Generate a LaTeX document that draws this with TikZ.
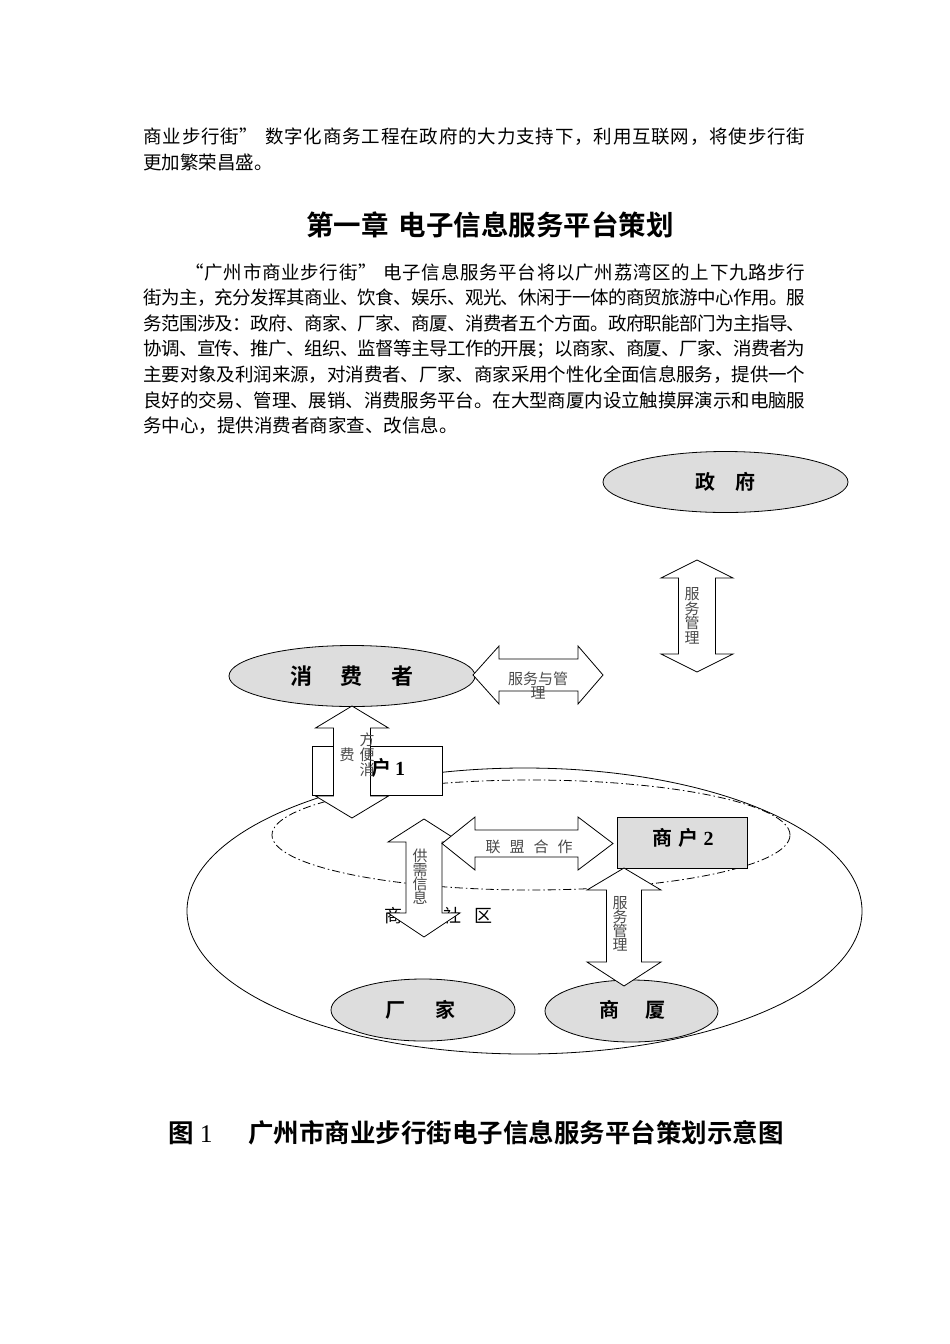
\documentclass[tikz,border=0pt]{standalone}
\usepackage{fontspec}
\usetikzlibrary{shapes.geometric}
\newfontfamily\cjk{Noto Sans CJK SC}
\IfFontExistsTF{Noto Sans CJK SC Bold}{\newfontfamily\cjkb{Noto Sans CJK SC Bold}}{\newfontfamily\cjkb[FakeBold=2]{Noto Sans CJK SC}}
\newfontfamily\tnr{Liberation Serif}
\newcommand\fs[1]{\fontsize{#1}{#1}\selectfont}
\makeatletter
\def\spreadline#1{\spr@a#1\relax}
\def\spr@a#1{#1\spr@b}
\def\spr@b#1{\ifx\relax#1\else\hspace{0pt plus 1fil minus 1pt}#1\expandafter\spr@b\fi}
\makeatother
\newcommand\jline[2]{\makebox[#1][s]{\spreadline{#2}}}
\newcommand\vdarr[7]{%
 \draw[blockarrow] (#1,#2) -- (#1+#4,#2+#6) -- (#1+#5,#2+#6) -- (#1+#5,#3-#7) -- (#1+#4,#3-#7) -- (#1,#3) -- (#1-#4,#3-#7) -- (#1-#5,#3-#7) -- (#1-#5,#2+#6) -- (#1-#4,#2+#6) -- cycle;}
\newcommand\hdarr[7]{%
 \draw[blockarrow] (#2,#1) -- (#2+#6,#1-#4) -- (#2+#6,#1-#5) -- (#3-#7,#1-#5) -- (#3-#7,#1-#4) -- (#3,#1) -- (#3-#7,#1+#4) -- (#3-#7,#1+#5) -- (#2+#6,#1+#5) -- (#2+#6,#1+#4) -- cycle;}
\definecolor{fillgray}{HTML}{DDDDDD}
\definecolor{labelgray}{HTML}{4A4A4A}
\begin{document}
\begin{tikzpicture}[x=1pt,y=-1pt,line width=0.8pt,
  body/.style={anchor=west,inner sep=0pt,font=\cjk\fs{18.5}},
  oval/.style={ellipse,draw,fill=fillgray,inner sep=0pt},
  box/.style={rectangle,draw,inner sep=0pt},
  blockarrow/.style={draw,fill=white,line join=miter},
  lbl/.style={text=labelgray,font=\cjk\fs{15},align=center,inner sep=0pt},
  bigtxt/.style={font=\cjkb\fs{20},inner sep=0pt},
  dashdot/.style={dash pattern=on 8pt off 3pt on 1.5pt off 3pt}]
\fill[white] (0,0) rectangle (950,1344);
\useasboundingbox (0,0) rectangle (950,1344);
% ---------- text ----------
\node[body] (p1a) at (143,137) {\jline{662pt}{商业步行街{”\hspace{6pt}}数字化商务工程在政府的大力支持下，利用互联网，将使步行街}};
\node[body] (p1b) at (143,162) {更加繁荣昌盛。};
\node[font=\cjkb\fs{27.5},inner sep=0pt] (title) at (490,225) {第一章\hspace{10pt}电子信息服务平台策划};
\node[body] (p2a) at (185,272) {\jline{620pt}{“广州市商业步行街{”\hspace{6pt}}电子信息服务平台将以广州荔湾区的上下九路步行}};
\node[body] (p2b) at (143,298) {\jline{662pt}{街为主，充分发挥其商业、饮食、娱乐、观光、休闲于一体的商贸旅游中心作用。服}};
\node[body] (p2c) at (143,323) {\jline{662pt}{务范围涉及：政府、商家、厂家、商厦、消费者五个方面。政府职能部门为主指导、}};
\node[body] (p2d) at (143,349) {\jline{662pt}{协调、宣传、推广、组织、监督等主导工作的开展；以商家、商厦、厂家、消费者为}};
\node[body] (p2e) at (143,375) {\jline{662pt}{主要对象及利润来源，对消费者、厂家、商家采用个性化全面信息服务，提供一个}};
\node[body] (p2f) at (143,400) {\jline{662pt}{良好的交易、管理、展销、消费服务平台。在大型商厦内设立触摸屏演示和电脑服}};
\node[body] (p2g) at (143,426) {务中心，提供消费者商家查、改信息。};
% ---------- diagram ----------
\node[ellipse,draw,inner sep=0pt,minimum width=675pt,minimum height=286pt] (area) at (524.5,911) {};
\node[ellipse,draw,dashdot,inner sep=0pt,minimum width=518pt,minimum height=110pt] (core) at (531,835) {};
\node[font=\cjk\fs{18},inner sep=0pt] (sq) at (438,916) {商\hspace{12pt}业\hspace{12pt}社\hspace{12pt}区};
\node[oval,minimum width=245pt,minimum height=61pt] (gov) at (725.5,482) {};
\node[bigtxt] at (gov) {政\hspace{20pt}府};
\node[oval,minimum width=246pt,minimum height=61pt] (cons) at (352,676) {};
\node[font=\cjkb\fs{22},inner sep=0pt] at (352,676) {消\hspace{29pt}费\hspace{29pt}者};
\node[oval,minimum width=184pt,minimum height=62pt] (fac) at (423,1010) {};
\node[bigtxt] at (420,1010) {厂\hspace{30pt}家};
\node[oval,minimum width=173pt,minimum height=62pt] (mall) at (631.5,1011) {};
\node[bigtxt] at (632,1010) {商\hspace{26pt}厦};
\node[box,fill=white,minimum width=130pt,minimum height=49pt] (m1) at (377,770.5) {};
\node[bigtxt] at (378,768) {商户\hspace{4pt}{\tnr\bfseries 1}};
\node[box,fill=fillgray,minimum width=130pt,minimum height=51pt] (m2) at (682,842.5) {};
\node[bigtxt] at (683,838) {商\hspace{6pt}户\hspace{5pt}{\tnr\bfseries 2}};
% block arrows
\vdarr{697}{560}{672}{36}{18.5}{18}{18}
\vdarr{352}{706}{818}{36.5}{18.5}{22}{22}
\vdarr{424}{819}{937}{36}{18}{23}{24}
\vdarr{624}{868}{986}{37}{17.5}{22}{24}
\hdarr{675}{473}{603}{29}{16}{26}{25}
\hdarr{843.5}{442}{613}{26.5}{13.5}{33}{35}
% arrow labels
\node[lbl] (l1) at (692,616) {服\\[-0.5pt]务\\[-0.5pt]管\\[-0.5pt]理};
\node[lbl] (l2) at (538,686) {服务与管\\[-1pt]理};
\node[lbl] (l3a) at (367,755) {方\\[0pt]便\\[0pt]消};
\node[lbl] (l3b) at (347,755) {费};
\node[lbl] (l4) at (420,877) {供\\[-1pt]需\\[-1pt]信\\[-1pt]息};
\node[lbl] (l5) at (620,924) {服\\[-1pt]务\\[-1pt]管\\[-1pt]理};
\node[lbl] (l6) at (529,847) {联\hspace{9pt}盟\hspace{9pt}合\hspace{9pt}作};
% caption
\node[anchor=west,font=\cjkb\fs{25.5},inner sep=0pt] (cap1) at (168,1133) {图\hspace{6pt}{\tnr 1}};
\node[anchor=west,font=\cjkb\fs{25.5},inner sep=0pt] (cap2) at (248,1133) {广州市商业步行街电子信息服务平台策划示意图};
\end{tikzpicture}
\end{document}
